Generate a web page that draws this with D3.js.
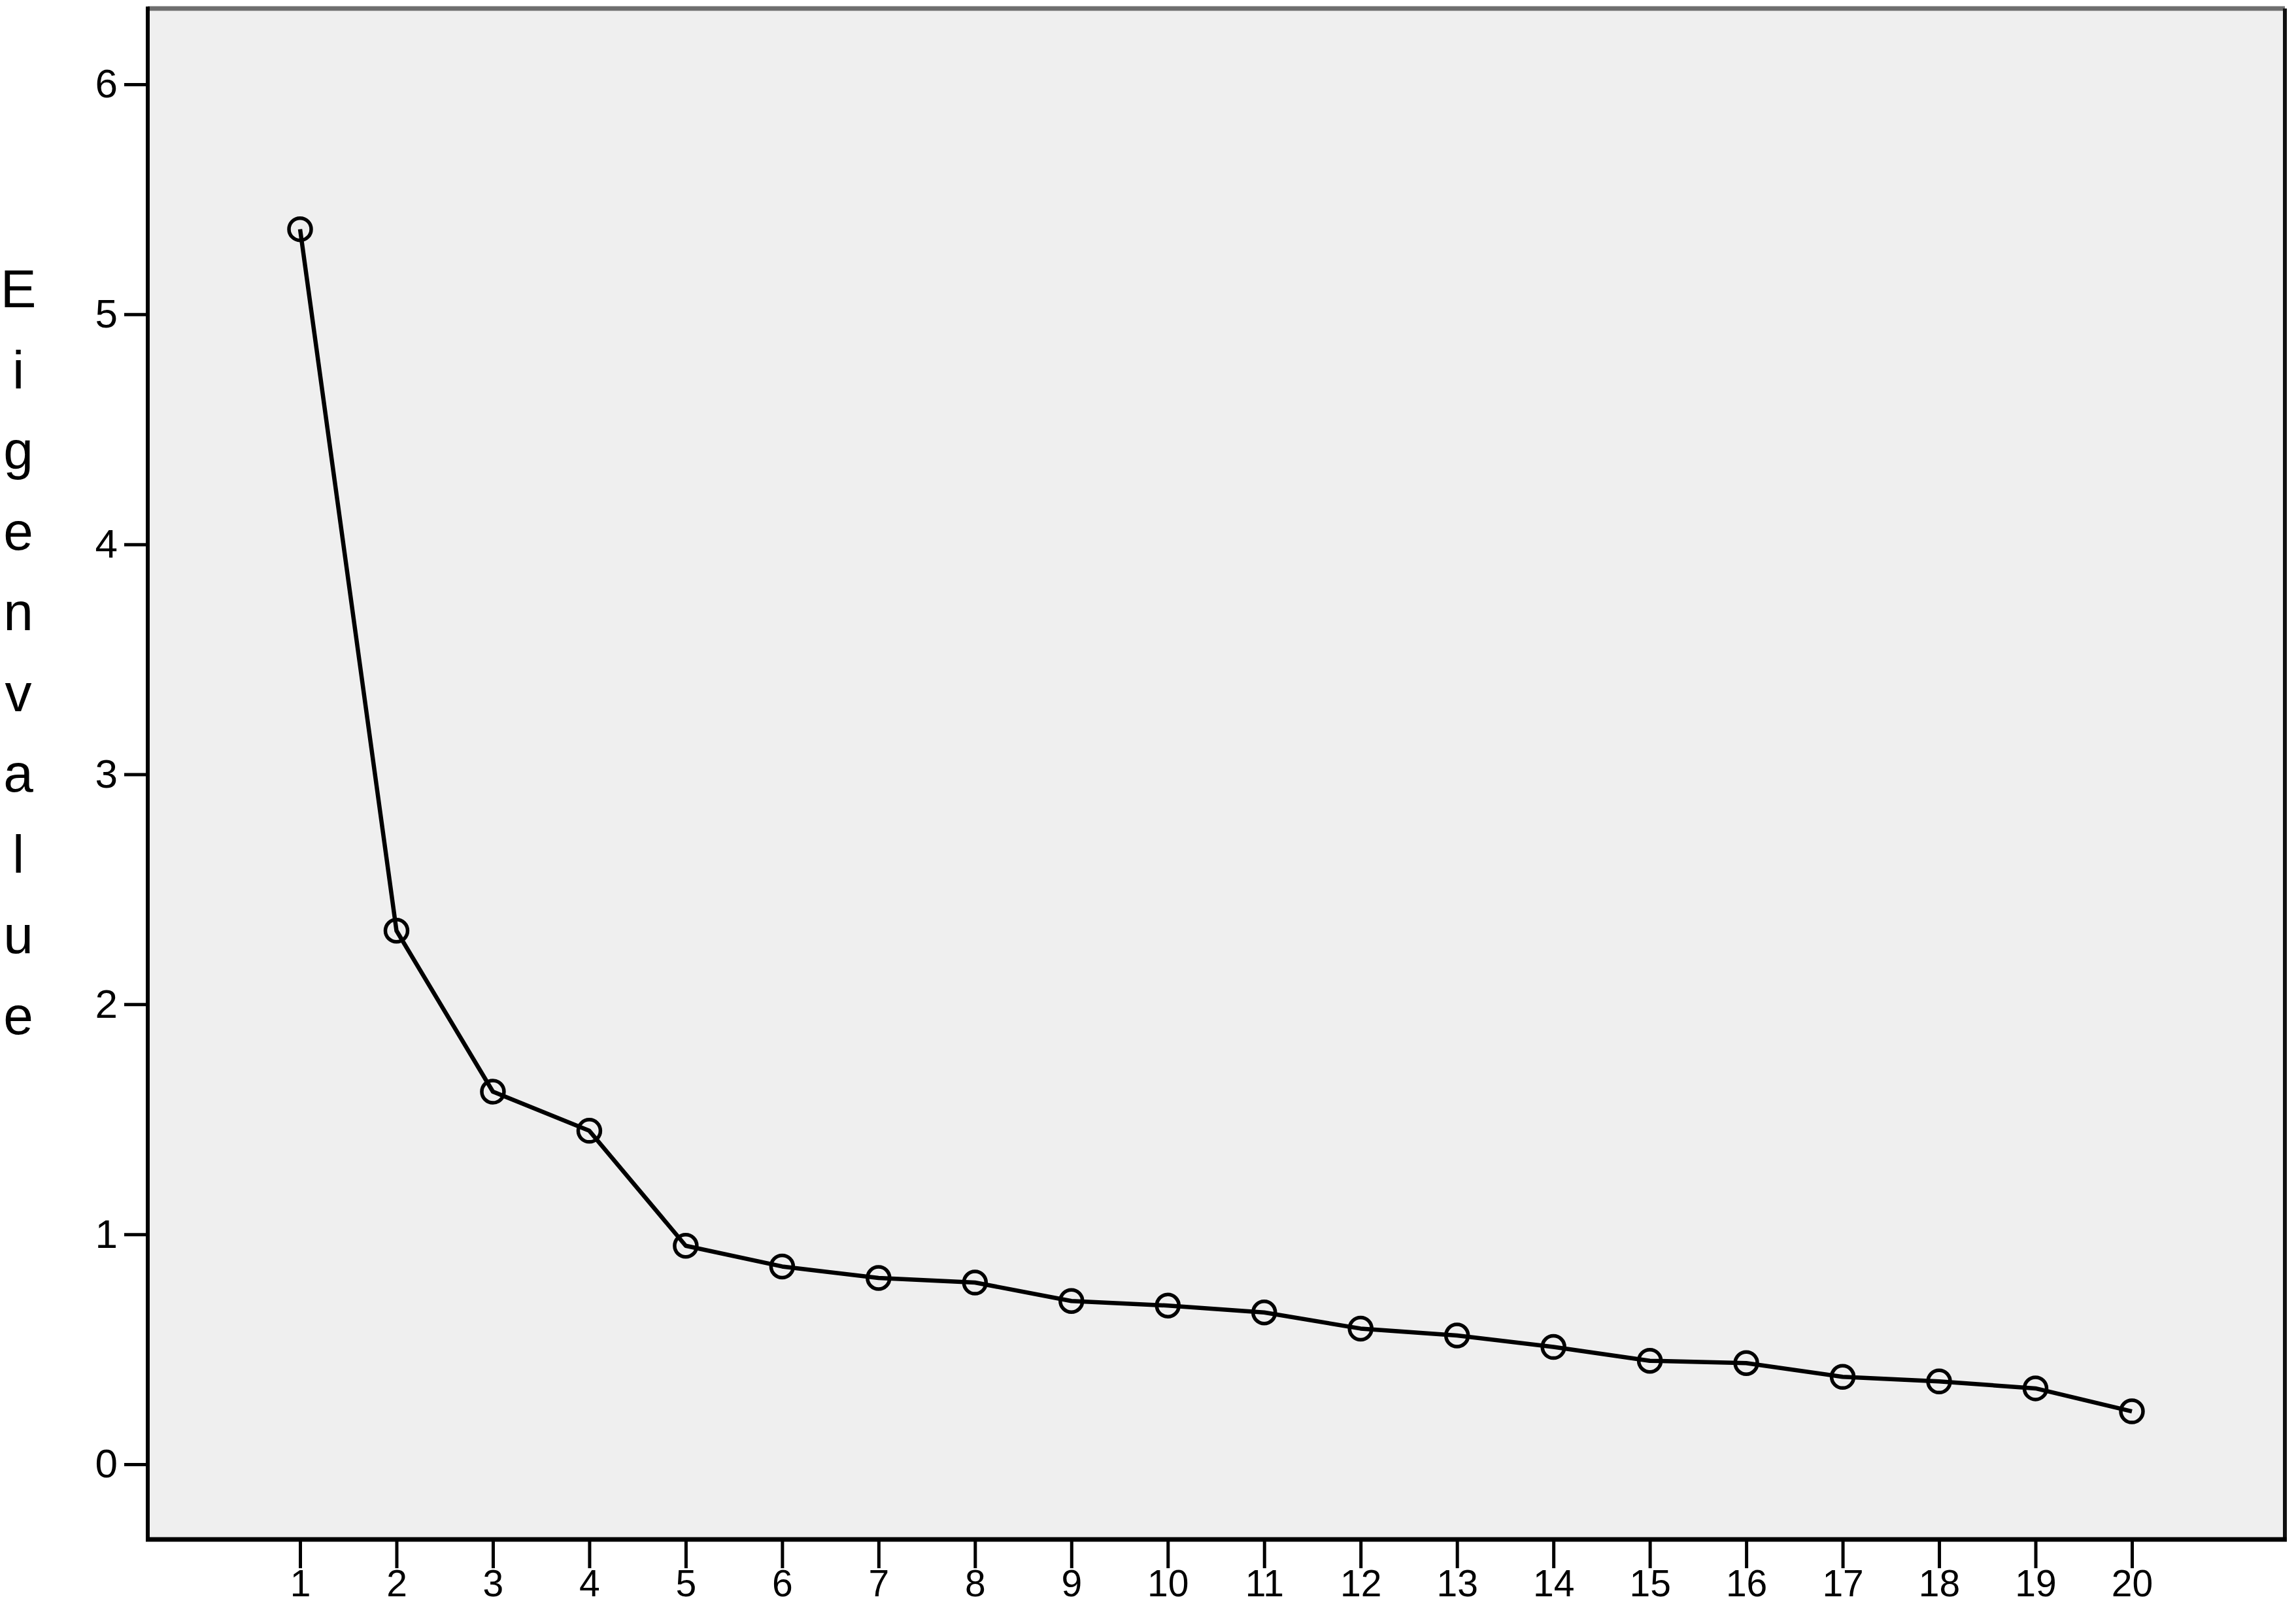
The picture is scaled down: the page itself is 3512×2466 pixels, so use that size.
<!DOCTYPE html>
<html>
<head>
<meta charset="utf-8">
<script src="https://cdn.jsdelivr.net/npm/d3@7"></script>
<style>
  body { margin: 0; background: #fff; }
  svg text { font-family: "Liberation Sans", Arial, sans-serif; fill: #000; }
</style>
</head>
<body>
<div id="scree"></div>
<script>
var components = [1, 2, 3, 4, 5, 6, 7, 8, 9, 10, 11, 12, 13, 14, 15, 16, 17, 18, 19, 20];
var eigenvalues = [5.37, 2.32, 1.62, 1.45, 0.95, 0.86, 0.81, 0.79, 0.71, 0.69,
                   0.66, 0.59, 0.56, 0.51, 0.45, 0.44, 0.38, 0.36, 0.33, 0.23];
var yTicks = [0, 1, 2, 3, 4, 5, 6];
var yTitle = "Eigenvalue";

var width = 3512,
    height = 2466;

// plot frame
var frame = { left: 226, top: 13, right: 3495, bottom: 2355 };

var data = components.map(function(c, i) { return { comp: c, value: eigenvalues[i] }; });

var svg = d3.select("#scree").append("svg")
    .attr("width", width)
    .attr("height", height);

var x = d3.scaleLinear()
    .domain([1, 20])
    .range([459, 3261]);

var y = d3.scaleLinear()
    .domain([0, 6])
    .range([2240, 129]);

// background
svg.append("rect")
    .attr("x", frame.left)
    .attr("y", frame.top)
    .attr("width", frame.right - frame.left)
    .attr("height", frame.bottom - frame.top)
    .attr("fill", "#efefef");

// top border (gray) and right border
svg.append("line")
    .attr("x1", frame.left).attr("x2", frame.right)
    .attr("y1", frame.top).attr("y2", frame.top)
    .attr("stroke", "#6e6e6e").attr("stroke-width", 7);
svg.append("line")
    .attr("x1", frame.right).attr("x2", frame.right)
    .attr("y1", frame.top).attr("y2", frame.bottom)
    .attr("stroke", "#111").attr("stroke-width", 6);

// axes
var yAxis = svg.append("g")
    .attr("transform", "translate(" + frame.left + ",0)")
    .call(d3.axisLeft(y).tickValues(yTicks).tickSize(36).tickPadding(10).tickFormat(d3.format("d")));

var xAxis = svg.append("g")
    .attr("transform", "translate(0," + frame.bottom + ")")
    .call(d3.axisBottom(x).tickValues(components).tickSize(44).tickPadding(3).tickFormat(d3.format("d")));

[yAxis, xAxis].forEach(function(ax) {
  ax.select(".domain").remove();
  ax.selectAll(".tick line").attr("stroke", "#000").attr("stroke-width", 5);
  ax.selectAll(".tick text").attr("font-size", 62).attr("fill", "#000");
});
xAxis.selectAll(".tick text").attr("font-size", 57);

svg.append("line")
    .attr("x1", frame.left).attr("x2", frame.left)
    .attr("y1", frame.top - 3).attr("y2", frame.bottom + 3)
    .attr("stroke", "#000").attr("stroke-width", 6);
svg.append("line")
    .attr("x1", frame.left - 3).attr("x2", frame.right + 3)
    .attr("y1", frame.bottom).attr("y2", frame.bottom)
    .attr("stroke", "#000").attr("stroke-width", 7);

// y title, one letter per line
svg.append("g")
    .selectAll("text")
    .data(yTitle.split(""))
    .enter().append("text")
    .attr("x", 28)
    .attr("y", function(d, i) { return 470 + i * 123.5; })
    .attr("text-anchor", "middle")
    .attr("font-size", 82)
    .text(function(d) { return d; });

// scree line
var line = d3.line()
    .x(function(d) { return x(d.comp); })
    .y(function(d) { return y(d.value); });

svg.append("path")
    .datum(data)
    .attr("fill", "none")
    .attr("stroke", "#000")
    .attr("stroke-width", 6.5)
    .attr("stroke-linejoin", "round")
    .attr("d", line);

svg.append("g")
    .selectAll("circle")
    .data(data)
    .enter().append("circle")
    .attr("cx", function(d) { return x(d.comp); })
    .attr("cy", function(d) { return y(d.value); })
    .attr("r", 17)
    .attr("fill", "none")
    .attr("stroke", "#000")
    .attr("stroke-width", 5.5);
</script>
</body>
</html>
